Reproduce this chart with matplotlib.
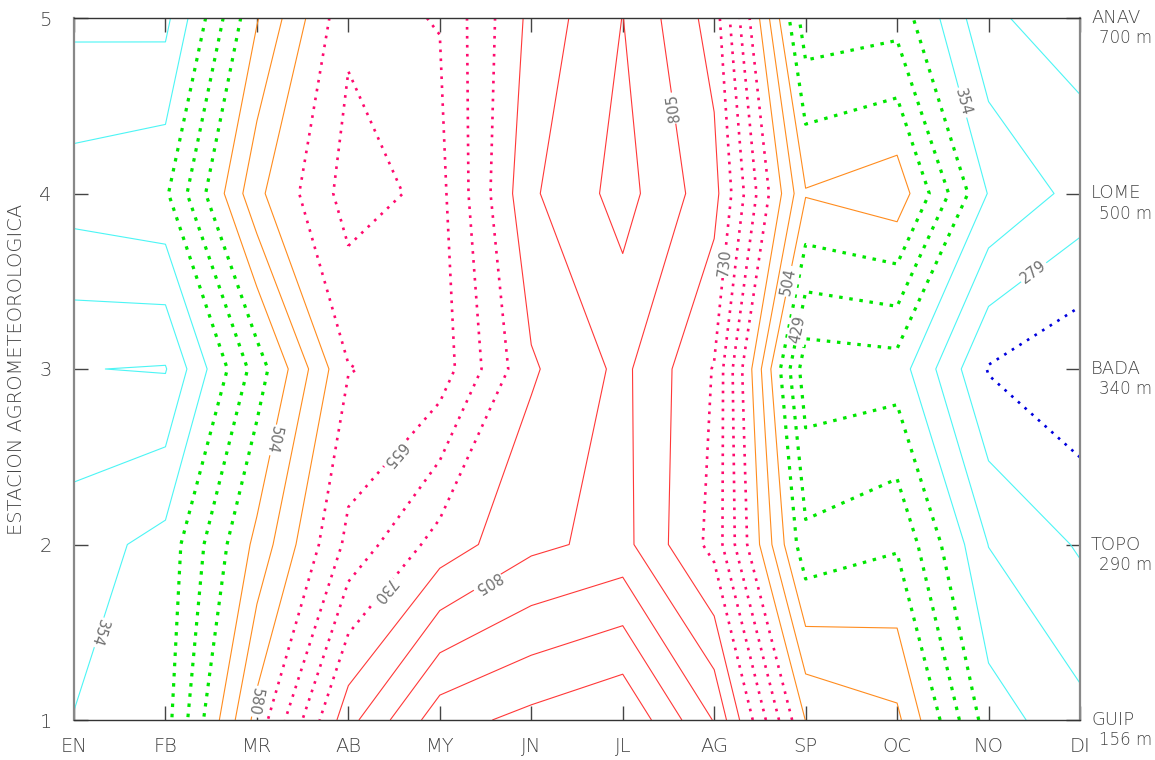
import numpy as np
import matplotlib
matplotlib.use("Agg")
import matplotlib.pyplot as plt

# Monthly values per agrometeorological station (rows: stations 1..5)
months = ["EN", "FB", "MR", "AB", "MY", "JN", "JL", "AG", "SP", "OC", "NO", "DI"]
station_idx = [1, 2, 3, 4, 5]
station_names = ["GUIP", "TOPO", "BADA", "LOME", "ANAV"]
station_alt = ["156 m", "290 m", "340 m", "500 m", "700 m"]

guip = [355.5, 377, 594, 793, 903, 930, 954, 841, 579, 551, 373, 328]
topo = [337, 367, 516, 666, 747, 797, 818, 718, 440, 463, 316, 275]
bada = [280.5, 277, 447, 616, 634, 763, 815, 728, 368, 374, 239, 208]
lome = [373, 386, 571, 672, 644, 800, 858, 782, 508, 530, 352, 303]
anav = [308, 306, 502, 648, 656.5, 779, 844, 752, 405, 415, 285, 261]

# Contour levels
level_start = 241.7
level_step = 37.6
n_levels = 20

# Label spots (data coordinates) per labelled level; True = text turned over
label_spots = {
    279.3: [(10.51, 3.54, False)],
    354.5: [(0.21, 1.51, True), (9.73, 4.52, False)],
    429.7: [(7.94, 3.22, False)],
    504.9: [(2.14, 2.60, True), (7.81, 3.50, False)],
    580.1: [(1.95, 1.11, True)],
    655.3: [(3.51, 2.51, True)],
    730.5: [(3.38, 1.74, True), (7.06, 3.61, False)],
    805.7: [(4.49, 1.81, True), (6.60, 4.49, True)],
}

Z = np.array([guip, topo, bada, lome, anav])
X = np.arange(len(months))
Y = np.array(station_idx)

levels = np.round(level_start + level_step * np.arange(n_levels), 1)

BLUE = "#0000dd"
CYAN = "#4cf5f5"
GREEN = "#00e600"
ORANGE = "#ff8c1e"
MAGENTA = "#ff0a6e"
RED = "#ff3838"

colors, styles, widths = [], [], []
for k in range(n_levels):
    if k == 0:
        colors.append(BLUE); styles.append((0, (1.0, 2.4))); widths.append(1.9)
    elif k <= 3:
        colors.append(CYAN); styles.append("solid"); widths.append(0.8)
    elif k <= 6:
        colors.append(GREEN); styles.append((0, (1.1, 2.1))); widths.append(2.3)
    elif k <= 9:
        colors.append(ORANGE); styles.append("solid"); widths.append(0.8)
    elif k <= 13:
        colors.append(MAGENTA); styles.append((0, (1.0, 2.4))); widths.append(1.9)
    else:
        colors.append(RED); styles.append("solid"); widths.append(0.8)

fig = plt.figure(figsize=(11.55, 7.6), dpi=100)
ax = fig.add_axes([74 / 1155, 40 / 760, (1080 - 74) / 1155, (720 - 18) / 760])
ax.set_xlim(0, len(months) - 1)
ax.set_ylim(1, 5)

cs = ax.contour(X, Y, Z, levels=levels, colors=colors,
                linestyles=styles, linewidths=widths)

txt_color = "#444444"
font = dict(family="DejaVu Sans", weight="light", color=txt_color)


def place_label(level, x0, y0, turned):
    """Write the level value on its contour, near (x0, y0), along the line."""
    k = int(np.argmin(np.abs(levels - level)))
    best = None
    to_disp = ax.transData.transform
    p0 = to_disp((x0, y0))
    for seg in cs.allsegs[k]:
        if len(seg) < 2:
            continue
        d = to_disp(seg)
        for i in range(len(d) - 1):
            a, b = d[i], d[i + 1]
            ab = b - a
            L2 = float(ab @ ab)
            if L2 == 0:
                continue
            t = np.clip(float((p0 - a) @ ab) / L2, 0, 1)
            q = a + t * ab
            dist = float(np.hypot(*(p0 - q)))
            if best is None or dist < best[0]:
                best = (dist, q, ab)
    if best is None:
        return
    _, q, ab = best
    ang = np.degrees(np.arctan2(ab[1], ab[0]))
    if ang > 90:
        ang -= 180
    elif ang <= -90:
        ang += 180
    if turned:
        ang -= 180
    xd, yd = ax.transData.inverted().transform(q)
    ax.text(xd, yd, f"{int(level)}", rotation=ang, rotation_mode="anchor",
            ha="center", va="center", fontsize=10.5, color="#707070",
            family="DejaVu Sans", zorder=5,
            bbox=dict(boxstyle="square,pad=0.12", fc="white", ec="none"))


for lev, spots in label_spots.items():
    for (sx, sy, turned) in spots:
        place_label(lev, sx, sy, turned)

ax.set_xticks(X)
ax.set_xticklabels(months, fontsize=14, **font)
ax.set_yticks(Y)
ax.set_yticklabels([str(v) for v in station_idx], fontsize=14, **font)
ax.tick_params(direction="in", length=10, width=1, color="#444444",
               top=True, right=True, pad=12)
ax.tick_params(axis="y", pad=16)
ax.set_ylabel("ESTACION AGROMETEOROLOGICA", fontsize=14, labelpad=10, **font)

for side in ("top", "bottom"):
    ax.spines[side].set_color("#333333")
    ax.spines[side].set_linewidth(1.0)
for side in ("left", "right"):
    ax.spines[side].set_color("#888888")
    ax.spines[side].set_linewidth(1.6)

# Station names and altitudes on the right-hand side
for yv, name, alt in zip(station_idx, station_names, station_alt):
    ax.text(1.011, (yv - 1) / 4, name, transform=ax.transAxes,
            ha="left", va="center", fontsize=13, **font)
    ax.text(1.019, (yv - 1) / 4 - 0.029, alt, transform=ax.transAxes,
            ha="left", va="center", fontsize=12, **font)

fig.savefig("out.png", dpi=100, facecolor="white")
